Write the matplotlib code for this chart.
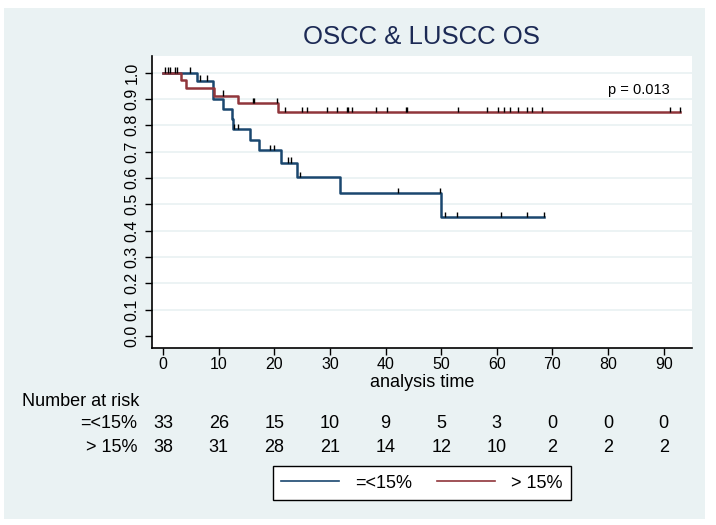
import numpy as np
import matplotlib.pyplot as plt
from matplotlib.patches import Rectangle
from matplotlib.lines import Line2D
import matplotlib.transforms as mtransforms

plt.rcParams['font.family'] = ['Liberation Sans', 'DejaVu Sans']

# Kaplan-Meier steps
low_times = [0, 6.1, 8.9, 10.8, 12.3, 12.6, 15.6, 17.3, 21.2, 24.0, 31.8, 49.9, 68.5]
low_surv = [1.0, 0.97, 0.90, 0.86, 0.823, 0.786, 0.745, 0.705, 0.658, 0.603, 0.543, 0.452, 0.452]
high_times = [0, 3.2, 4.1, 9.2, 13.5, 20.7, 92.9]
high_surv = [1.0, 0.972, 0.941, 0.913, 0.884, 0.850, 0.850]

# censoring times
low_cens = [0.9, 4.9, 6.7, 7.9, 12.8, 13.4, 19.3, 20.0, 22.5, 23.0, 24.7,
            42.3, 49.8, 50.7, 52.9, 60.7, 65.4, 68.5]
high_cens = [0.4, 1.2, 2.1, 2.5, 10.8, 16.1, 16.4, 20.4, 22.0, 24.9, 25.9, 29.4,
             31.3, 33.0, 33.3, 33.9, 38.2, 40.2, 43.6, 43.8, 53.0, 58.2, 60.2,
             61.3, 62.3, 63.9, 65.5, 66.4, 68.2, 91.1, 92.9]

# number at risk table
risk_times = [0, 10, 20, 30, 40, 50, 60, 70, 80, 90]
risk_low = [33, 26, 15, 10, 9, 5, 3, 0, 0, 0]
risk_high = [38, 31, 28, 21, 14, 12, 10, 2, 2, 2]
group_labels = ['=<15%', '> 15%']

blue = '#1a476f'
red = '#90353b'
panel = '#eaf2f3'

W, H = 716, 525
fig = plt.figure(figsize=(W / 100, H / 100), dpi=100, facecolor='white')
fig.patches.append(Rectangle((4 / W, 1 - 519 / H), 701 / W, 511 / H,
                             transform=fig.transFigure, facecolor=panel,
                             edgecolor='none', zorder=-10))

ax = fig.add_axes([152 / W, 1 - 347.7 / H, 540 / W, 291.7 / H])
ax.set_facecolor('white')
ax.set_xlim(-2.0, 95.1)
ax.set_ylim(-0.044, 1.063)

for g in np.arange(0.1, 1.01, 0.1):
    ax.axhline(g, color=panel, lw=1.3, zorder=0)


def censor_y(times, surv, cens):
    idx = np.searchsorted(times, cens, side='right') - 1
    return np.array(surv)[idx]


for times, surv, cens, col in [(low_times, low_surv, low_cens, blue),
                               (high_times, high_surv, high_cens, red)]:
    ax.step(times, surv, where='post', color=col, lw=1.8, zorder=3)
    cy = censor_y(times, surv, cens)
    ax.vlines(cens, cy, cy + 0.02, color='black', lw=1.0, zorder=4)

ax.text(85.6, 0.933, 'p = 0.013', ha='center', va='center', fontsize=10.5)

ax.set_xticks(risk_times)
ax.set_yticks(np.round(np.arange(0, 1.01, 0.1), 1))
ax.set_yticklabels([f'{v:.1f}' for v in np.arange(0, 1.01, 0.1)],
                   rotation=90, va='center')
ax.tick_params(direction='out', length=5, width=1, labelsize=11.5, pad=2)
ax.tick_params(axis='y', pad=4)
for s in ['top', 'right']:
    ax.spines[s].set_visible(False)
for s in ['left', 'bottom']:
    ax.spines[s].set_linewidth(1.2)
ax.set_xlabel('analysis time', fontsize=13, labelpad=1)

fig.text(421.5 / W, 1 - 37 / H, 'OSCC & LUSCC OS', ha='center', va='center',
         fontsize=18.5, color='#1c2a55')

# number at risk table
tr = mtransforms.blended_transform_factory(ax.transData, fig.transFigure)
fig.text(22 / W, 1 - 401 / H, 'Number at risk', ha='left', va='center', fontsize=13)
for row_y, lab, vals in [(424, group_labels[0], risk_low), (448, group_labels[1], risk_high)]:
    fig.text(137 / W, 1 - row_y / H, lab, ha='right', va='center', fontsize=13)
    for t, v in zip(risk_times, vals):
        ax.text(t, 1 - row_y / H, str(v), transform=tr, ha='center', va='center',
                fontsize=13, clip_on=False)

handles = [Line2D([], [], color=blue, lw=1.2), Line2D([], [], color=red, lw=1.2)]
leg = fig.legend(handles, group_labels, loc='center', ncol=2,
                 bbox_to_anchor=(422 / W, 1 - 483 / H), fontsize=13,
                 handlelength=3.2, handletextpad=0.9, columnspacing=1.4,
                 fancybox=False, edgecolor='black', framealpha=1, borderpad=0.45)
leg.get_frame().set_linewidth(1.0)

fig.savefig('out.png', dpi=100, facecolor='white')
